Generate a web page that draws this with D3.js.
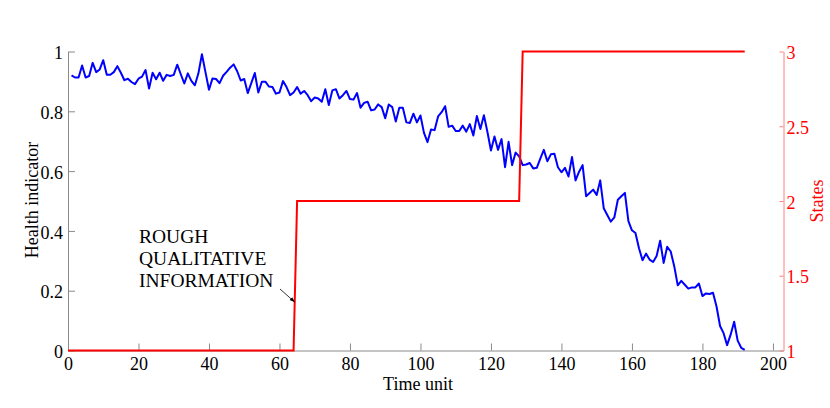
<!DOCTYPE html>
<html>
<head>
<meta charset="utf-8">
<script src="https://cdn.jsdelivr.net/npm/d3@7"></script>
<style>
  html, body { margin: 0; padding: 0; background: #fff; }
  svg { display: block; font-family: "Liberation Serif", "Times New Roman", serif; }
</style>
</head>
<body>
<svg id="chart" width="830" height="408"></svg>
<script>
// ---- data ----
// health indicator, one value per time unit starting at t = 1
const health = [
  0.920, 0.913, 0.913, 0.953, 0.913, 0.918, 0.962, 0.931, 0.940, 0.971,
  0.922, 0.922, 0.931, 0.951, 0.929, 0.904, 0.909, 0.898, 0.891, 0.909,
  0.916, 0.938, 0.876, 0.929, 0.907, 0.929, 0.902, 0.922, 0.918, 0.922,
  0.956, 0.924, 0.893, 0.927, 0.902, 0.887, 0.927, 0.991, 0.931, 0.872,
  0.910, 0.908, 0.894, 0.919, 0.932, 0.946, 0.957, 0.934, 0.903, 0.908,
  0.861, 0.894, 0.928, 0.863, 0.899, 0.899, 0.883, 0.881, 0.859, 0.863,
  0.901, 0.881, 0.854, 0.863, 0.881, 0.859, 0.868, 0.854, 0.834, 0.846,
  0.843, 0.832, 0.874, 0.821, 0.870, 0.874, 0.843, 0.854, 0.868, 0.841,
  0.839, 0.861, 0.812, 0.828, 0.832, 0.803, 0.806, 0.823, 0.814, 0.777,
  0.823, 0.814, 0.766, 0.812, 0.812, 0.763, 0.761, 0.792, 0.763, 0.786,
  0.728, 0.697, 0.739, 0.737, 0.783, 0.797, 0.817, 0.748, 0.752, 0.734,
  0.734, 0.752, 0.732, 0.757, 0.719, 0.784, 0.741, 0.787, 0.731, 0.669,
  0.716, 0.671, 0.707, 0.613, 0.698, 0.620, 0.662, 0.649, 0.620, 0.622,
  0.627, 0.609, 0.611, 0.642, 0.671, 0.633, 0.656, 0.658, 0.613, 0.596,
  0.611, 0.582, 0.647, 0.569, 0.598, 0.620, 0.516, 0.527, 0.538, 0.520,
  0.569, 0.476, 0.453, 0.431, 0.445, 0.504, 0.516, 0.527, 0.433, 0.402,
  0.393, 0.342, 0.302, 0.324, 0.304, 0.296, 0.316, 0.367, 0.293, 0.347,
  0.331, 0.282, 0.218, 0.233, 0.220, 0.207, 0.211, 0.211, 0.224, 0.182,
  0.191, 0.189, 0.193, 0.147, 0.082, 0.058, 0.018, 0.053, 0.096, 0.033,
  0.009, 0.002
];
const healthStart = 1;

// states (step signal)
const stateTimes  = [0, 64, 65, 128, 129, 192];
const stateValues = [1, 1, 2, 2, 3, 3];

const xTicks = [0, 20, 40, 60, 80, 100, 120, 140, 160, 180, 200];
const yLeftTicks = [0, 0.2, 0.4, 0.6, 0.8, 1];
const yRightTicks = [1, 1.5, 2, 2.5, 3];

const annotationLines = ["ROUGH", "QUALITATIVE", "INFORMATION"];

// ---- layout ----
const svg = d3.select("#chart");
const L = 68, R = 783.5, T = 51.5, B = 350.5;

const x = d3.scaleLinear().domain([0, 203]).range([L, R]);
const yL = d3.scaleLinear().domain([0, 1]).range([B, T]);
const yR = d3.scaleLinear().domain([1, 3]).range([B, T]);

const defs = svg.append("defs");
defs.append("marker")
  .attr("id", "arrow").attr("viewBox", "0 0 10 10")
  .attr("refX", 9).attr("refY", 5)
  .attr("markerWidth", 7).attr("markerHeight", 7)
  .attr("orient", "auto")
  .append("path").attr("d", "M0,1.5 L10,5 L0,8.5 Z").attr("fill", "#000");

// axes
function styleAxis(g, color, textColor) {
  g.select(".domain").attr("stroke", color).attr("stroke-width", 1);
  g.selectAll(".tick line").attr("stroke", color).attr("stroke-width", 1);
  g.selectAll(".tick text").attr("fill", textColor)
    .style("font-family", '"Liberation Serif", "Times New Roman", serif')
    .style("font-size", "18px");
}

const gx = svg.append("g").attr("transform", `translate(0,${B})`)
  .call(d3.axisBottom(x).tickValues(xTicks).tickSizeInner(-7).tickSizeOuter(0)
    .tickPadding(7).tickFormat(d3.format("d")));
styleAxis(gx, "#8a8a8a", "#000");

const gyl = svg.append("g").attr("transform", `translate(${L},0)`)
  .call(d3.axisLeft(yL).tickValues(yLeftTicks).tickSizeInner(-7).tickSizeOuter(0)
    .tickPadding(5).tickFormat(d => d3.format("")(+d.toFixed(1))));
styleAxis(gyl, "#8a8a8a", "#000");
gyl.selectAll(".tick text").attr("dy", "0.4em");

const gyr = svg.append("g").attr("transform", `translate(${R},0)`)
  .call(d3.axisRight(yR).tickValues(yRightTicks).tickSizeInner(-4).tickSizeOuter(0)
    .tickPadding(3).tickFormat(d => String(d)));
styleAxis(gyr, "#ff8080", "#ff0000");
gyr.selectAll(".tick text").attr("dy", "0.4em");

// health line
const healthLine = d3.line()
  .x((d, i) => x(healthStart + i))
  .y(d => yL(d));
svg.append("path").datum(health)
  .attr("d", healthLine)
  .attr("fill", "none").attr("stroke", "#0000ff").attr("stroke-width", 2)
  .attr("stroke-linejoin", "round");

// states line
const stateLine = d3.line()
  .x(d => x(d[0]))
  .y(d => yR(d[1]));
svg.append("path").datum(d3.zip(stateTimes, stateValues))
  .attr("d", stateLine)
  .attr("fill", "none").attr("stroke", "#ff0000").attr("stroke-width", 2);

// axis labels
svg.append("text").attr("x", 418).attr("y", 390).attr("text-anchor", "middle")
  .style("font-size", "18px").attr("fill", "#000").text("Time unit");
svg.append("text").attr("transform", "translate(38,200) rotate(-90)")
  .attr("text-anchor", "middle").style("font-size", "18px").attr("fill", "#000")
  .text("Health indicator");
svg.append("text").attr("transform", "translate(823,201) rotate(-90)")
  .attr("text-anchor", "middle").style("font-size", "18px").attr("fill", "#ff0000")
  .text("States");

// annotation
const ann = svg.append("text").attr("x", 139).attr("y", 243)
  .style("font-size", "19.5px").attr("fill", "#000");
annotationLines.forEach((s, i) => {
  ann.append("tspan").attr("x", 139).attr("dy", i === 0 ? 0 : 22).text(s);
});
svg.append("line")
  .attr("x1", 280).attr("y1", 289)
  .attr("x2", x(64.3)).attr("y2", 302)
  .attr("stroke", "#000").attr("stroke-width", 0.8)
  .attr("marker-end", "url(#arrow)");
</script>
</body>
</html>
